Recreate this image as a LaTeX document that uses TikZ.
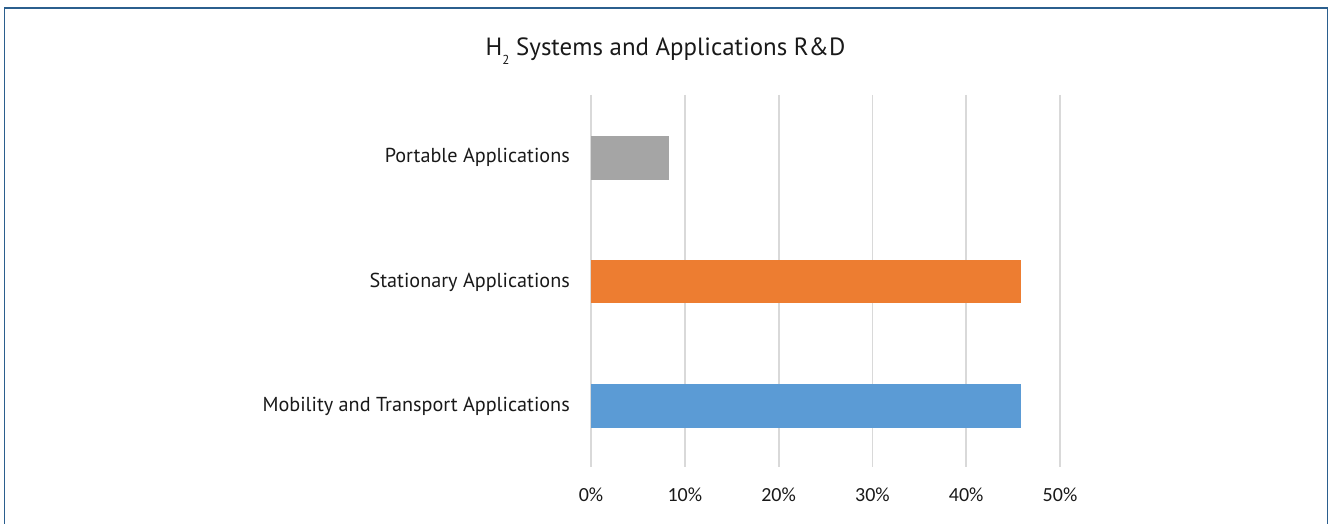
\documentclass[tikz,border=0pt]{standalone}
\usepackage{fontspec}
\setmainfont{PT Sans}
\newfontfamily\axisfont{Carlito}
\definecolor{framecol}{HTML}{2B5F8E}
\definecolor{gridcol}{HTML}{D9D9D9}
\definecolor{barGray}{HTML}{A5A5A5}
\definecolor{barOrange}{HTML}{ED7D31}
\definecolor{barBlue}{HTML}{5B9BD5}
\tikzset{
  catlabel/.style={anchor=base east, inner sep=0pt, font=\fontsize{20.2}{24}\selectfont, text=black!90},
  ticklabel/.style={anchor=base, inner sep=0pt, font=\axisfont\fontsize{20}{24}\selectfont, text=black!90},
  gridline/.style={draw=gridcol, line width=1.8pt},
}
\begin{document}
\begin{tikzpicture}[x=1pt,y=-1pt]
  \useasboundingbox (0,0) rectangle (1333,524);
  % outer frame, open at the bottom
  \draw[framecol, line width=1.5pt] (4.5,524) -- (4.5,8) -- (1327.5,8) -- (1327.5,524);
  % title
  \node[anchor=base, inner sep=0pt, font=\fontsize{24.9}{28}\selectfont, text=black!90] (title) at (665.5,55.5)
    {H\raisebox{-0.35em}{\fontsize{13}{14}\selectfont 2} Systems and Applications R\&D};
  % vertical grid lines and tick labels (one step = 10 %)
  \foreach \i/\t in {0/0\%,1/10\%,2/20\%,3/30\%,4/40\%,5/50\%} {
    \draw[gridline] (591+93.8*\i,95) -- (591+93.8*\i,467);
    \node[ticklabel] (tick\i) at (591+93.8*\i,501.5) {\t};
  }
  % bars
  \fill[barGray]   (591,136.5) rectangle (668.5,179.5);
  \fill[barOrange] (591,260)   rectangle (1020.5,303);
  \fill[barBlue]   (591,384)   rectangle (1020.5,427.5);
  % category labels
  \node[catlabel] (portable)   at (570,162) {Portable Applications};
  \node[catlabel] (stationary) at (570,287) {Stationary Applications};
  \node[catlabel] (mobility)   at (570,411) {Mobility and Transport Applications};
\end{tikzpicture}
\end{document}
